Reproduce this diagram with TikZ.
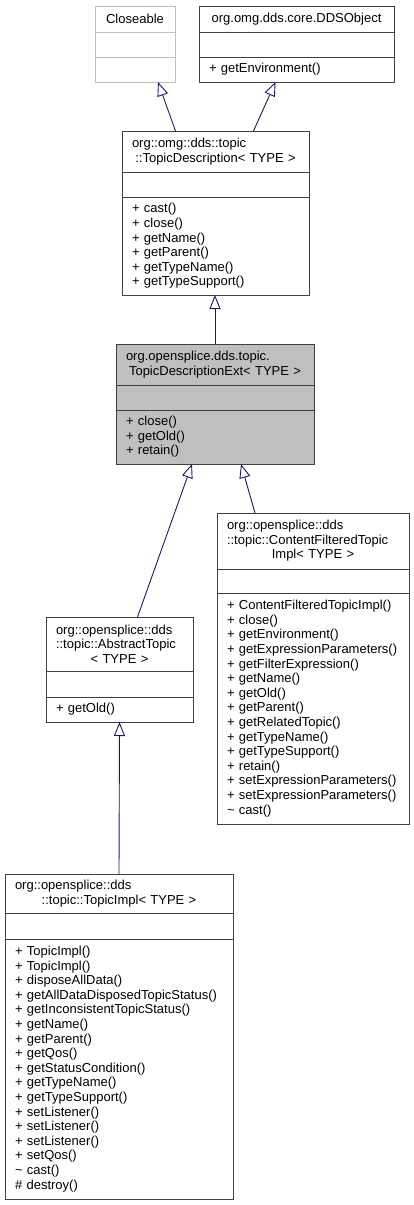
\documentclass[tikz,border=0pt]{standalone}
\usepackage{fontspec}
\setmainfont{Liberation Sans}
\usetikzlibrary{positioning,arrows.meta}
\hyphenpenalty=10000
\exhyphenpenalty=10000

\definecolor{edgeblue}{RGB}{25,25,112}
\definecolor{boxgray}{RGB}{64,64,64}
\definecolor{fadedgray}{RGB}{191,191,191}
\definecolor{focusgray}{RGB}{191,191,191}
\tikzstyle{part} = [draw=boxgray, line width=0.9pt, fill=white, inner xsep=10pt, inner ysep=0pt, outer sep=0pt, font=\fontsize{13}{14.6}\selectfont]

% first lines flush left, last line centred
\newcommand{\clshead}[2]{{\raggedright #1\par}{\centering #2\par}}

\begin{document}
\begin{tikzpicture}[x=1pt, y=-1pt,
			head/.style={part, anchor=north west},
			cw/.style={minimum width=#1, text width=#1-20pt},
			inherit/.style={draw=edgeblue, line width=0.9pt, -{Triangle[open, length=14pt, width=11pt]}}]
			\useasboundingbox (0,0) rectangle (414,1205);
			
			% Closeable
			\node (closeHead) [head, cw=80pt, minimum height=26pt, align=center, draw=fadedgray] at (95,6) {Closeable};
			\node (closeAttr) [part, cw=80pt, minimum height=25pt, draw=fadedgray, below=0pt of closeHead] {};
			\node (closeOps) [part, cw=80pt, minimum height=25pt, draw=fadedgray, below=0pt of closeAttr] {};
			
			% DDSObject
			\node (ddsHead) [head, cw=195pt, minimum height=26pt, align=center] at (199,6) {org.omg.dds.core.DDSObject};
			\node (ddsAttr) [part, cw=195pt, minimum height=25pt, below=0pt of ddsHead] {};
			\node (ddsOps) [part, cw=195pt, minimum height=25pt, align=left, below=0pt of ddsAttr] {+ getEnvironment()};
			
			% TopicDescription
			\node (tdHead) [head, cw=187pt, minimum height=41pt] at (122,131) {\clshead{org::omg::dds::topic}{::TopicDescription< TYPE >}};
			\node (tdAttr) [part, cw=187pt, minimum height=25pt, below=0pt of tdHead] {};
			\node (tdOps) [part, cw=187pt, minimum height=98pt, align=left, below=0pt of tdAttr] {+ cast()\\+ close()\\+ getName()\\+ getParent()\\+ getTypeName()\\+ getTypeSupport()};
			
			% TopicDescriptionExt
			\node (tdeHead) [head, cw=198pt, minimum height=41pt, fill=focusgray] at (116,344) {\clshead{org.opensplice.dds.topic.}{TopicDescriptionExt< TYPE >}};
			\node (tdeAttr) [part, cw=198pt, minimum height=25pt, fill=focusgray, below=0pt of tdeHead] {};
			\node (tdeOps) [part, cw=198pt, minimum height=54pt, fill=focusgray, align=left, below=0pt of tdeAttr] {+ close()\\+ getOld()\\+ retain()};
			
			% ContentFilteredTopicImpl
			\node (cftHead) [head, cw=192pt, minimum height=56pt] at (217,513) {\clshead{org::opensplice::dds\\::topic::ContentFilteredTopic}{Impl< TYPE >}};
			\node (cftAttr) [part, cw=192pt, minimum height=24pt, below=0pt of cftHead] {};
			\node (cftOps) [part, cw=192pt, minimum height=231pt, align=left, below=0pt of cftAttr] {+ ContentFilteredTopicImpl()\\+ close()\\+ getEnvironment()\\+ getExpressionParameters()\\+ getFilterExpression()\\+ getName()\\+ getOld()\\+ getParent()\\+ getRelatedTopic()\\+ getTypeName()\\+ getTypeSupport()\\+ retain()\\+ setExpressionParameters()\\+ setExpressionParameters()\\\textasciitilde{} cast()};
			
			% AbstractTopic
			\node (absHead) [head, cw=147pt, minimum height=54pt] at (46,617) {\clshead{org::opensplice::dds\\::topic::AbstractTopic}{< TYPE >}};
			\node (absAttr) [part, cw=147pt, minimum height=26pt, below=0pt of absHead] {};
			\node (absOps) [part, cw=147pt, minimum height=25pt, align=left, below=0pt of absAttr] {+ getOld()};
			
			% TopicImpl
			\node (implHead) [head, cw=228pt, minimum height=39pt] at (5,874) {\clshead{org::opensplice::dds}{::topic::TopicImpl< TYPE >}};
			\node (implAttr) [part, cw=228pt, minimum height=26pt, below=0pt of implHead] {};
			\node (implOps) [part, cw=228pt, minimum height=260pt, align=left, below=0pt of implAttr] {+ TopicImpl()\\+ TopicImpl()\\+ disposeAllData()\\+ getAllDataDisposedTopicStatus()\\+ getInconsistentTopicStatus()\\+ getName()\\+ getParent()\\+ getQos()\\+ getStatusCondition()\\+ getTypeName()\\+ getTypeSupport()\\+ setListener()\\+ setListener()\\+ setListener()\\+ setQos()\\\textasciitilde{} cast()\\\# destroy()};
			
			\draw[inherit] ([xshift=-40pt]tdHead.north) -- ([xshift=23pt]closeOps.south);
			\draw[inherit] ([xshift=38pt]tdHead.north) -- ([xshift=-21pt]ddsOps.south);
			\draw[inherit] (tdeHead.north) -- (tdeHead.north |- tdOps.south);
			\draw[inherit] ([xshift=18pt]absHead.north) -- ([xshift=-23pt]tdeOps.south);
			\draw[inherit] ([xshift=-58pt]cftHead.north) -- ([xshift=26pt]tdeOps.south);
			\draw[inherit] (implHead.north) -- (absOps.south);
		\end{tikzpicture}
\end{document}
